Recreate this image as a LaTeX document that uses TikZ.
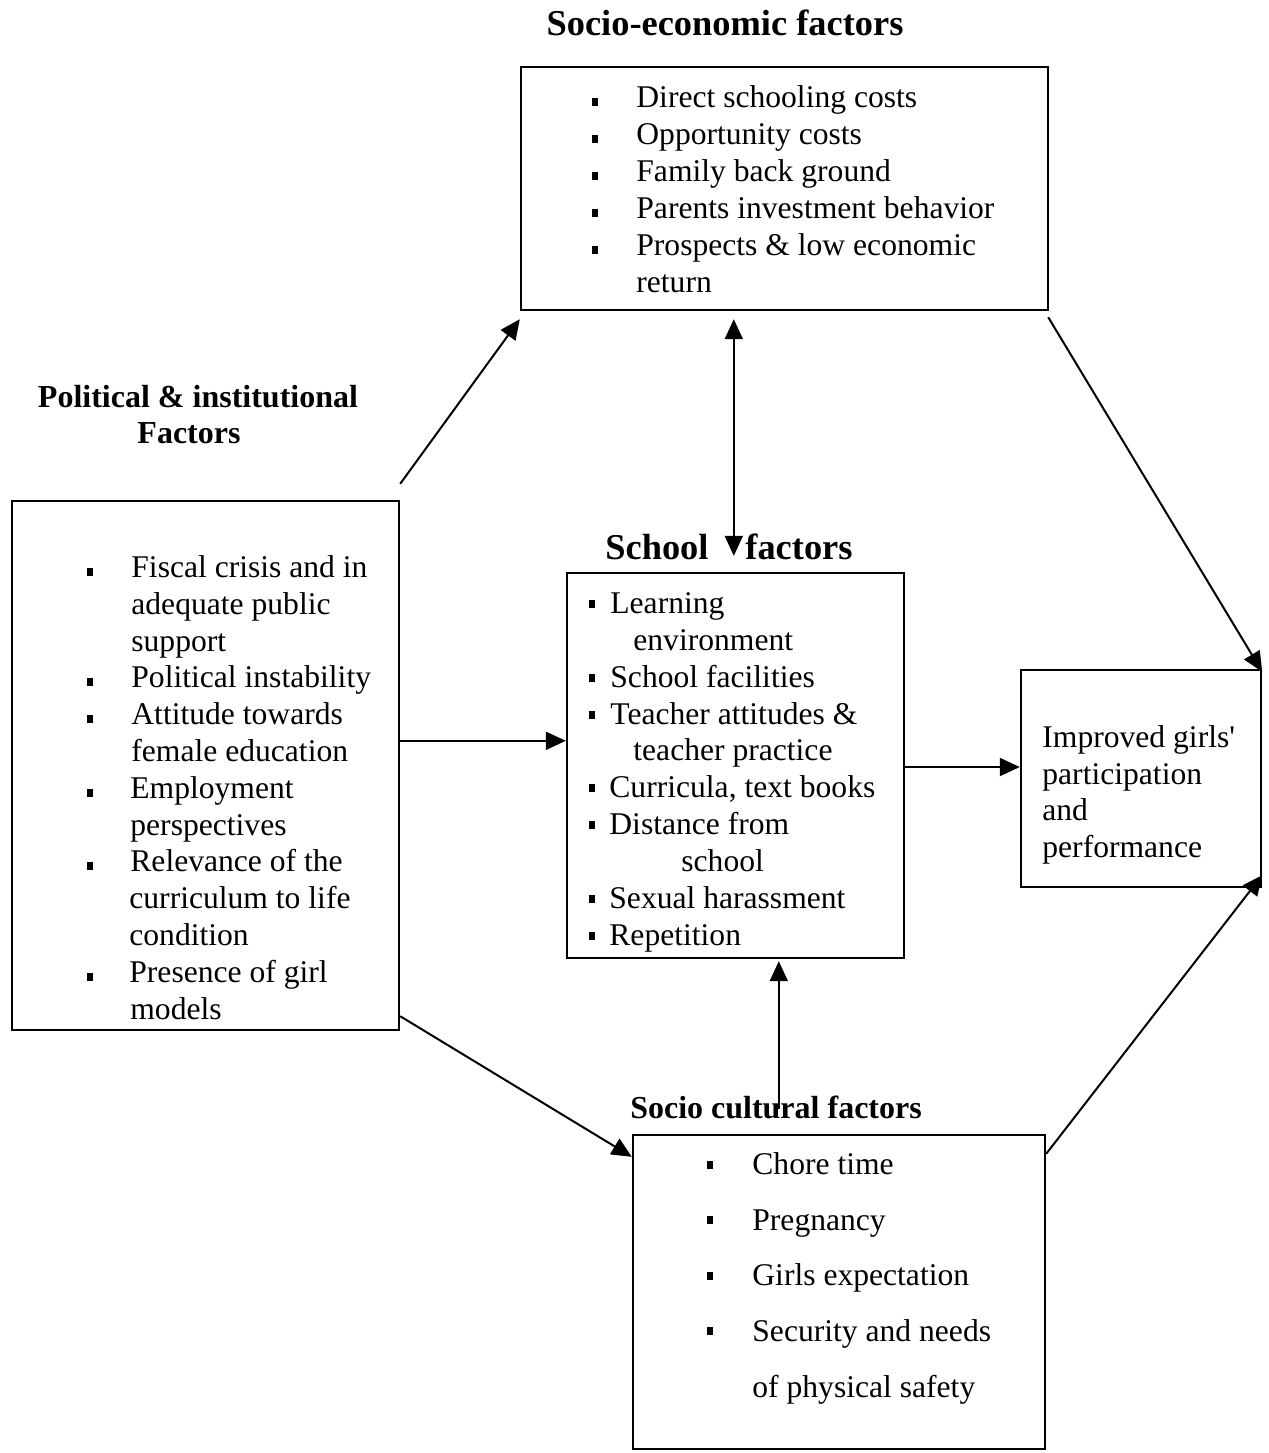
\documentclass[tikz,border=0pt]{standalone}
\usepackage{fontspec}
\setmainfont{Liberation Serif}[Ligatures=TeXOff]
\usetikzlibrary{arrows.meta,calc,fit}
\begin{document}
\begin{tikzpicture}[x=0.5pt,y=-0.5pt,
  box/.style={draw, line width=1.2pt, inner sep=0pt},
  arr/.style={line width=1pt, -{Triangle[length=10pt,width=9pt]}},
  dbl/.style={line width=1pt, {Triangle[length=10pt,width=9pt]}-{Triangle[length=10pt,width=9pt]}},
  txt/.style={anchor=base west, inner sep=0pt, font=\fontsize{15.8}{18}\selectfont},
  bul/.style={fill, inner sep=0pt, minimum width=3.3pt, minimum height=3.6pt},
  ttl/.style={anchor=base, inner sep=0pt, font=\bfseries\fontsize{16}{19}\selectfont},
  bigttl/.style={inner sep=0pt, font=\bfseries\fontsize{18.2}{22}\selectfont}]
\useasboundingbox (0,0) rectangle (1269,1453);

% ---------- boxes ----------
\node[box, fit={(521,67)(1048,310)}] (se) {};
\node[box, fit={(12,501)(399,1030)}] (pol) {};
\node[box, fit={(567,573)(904,958)}] (sch) {};
\node[box, fit={(1021,670)(1261,887)}] (imp) {};
\node[box, fit={(633,1135)(1045,1449)}] (sc) {};

% ---------- titles ----------
\node[bigttl, anchor=base] (set) at (725,35) {Socio-economic factors};
\node[ttl] (polt1) at (198,407) {Political \& institutional};
\node[ttl] (polt2) at (189,443) {Factors};
\node[bigttl, anchor=base west] (scht1) at (605,559) {School};
\node[bigttl, anchor=base west] (scht2) at (745,559) {factors};
\node[ttl] (sct) at (776,1118) {Socio cultural factors};

% ---------- socio-economic list ----------
\node[txt] (se1) at (636,107) {Direct schooling costs};
\node[txt] (se2) at (636,144) {Opportunity costs};
\node[txt] (se3) at (636,181) {Family back ground};
\node[txt] (se4) at (636,218) {Parents investment behavior};
\node[txt] (se5) at (636,255) {Prospects \& low economic};
\node[txt] (se6) at (636,292) {return};
\node[bul] (seb1) at (595,102) {};
\node[bul] (seb2) at (595,139) {};
\node[bul] (seb3) at (595,176) {};
\node[bul] (seb4) at (595,213) {};
\node[bul] (seb5) at (595,250) {};

% ---------- political list ----------
\node[txt] (p1) at (131,577) {Fiscal crisis and in};
\node[txt] (p2) at (131,614) {adequate public};
\node[txt] (p3) at (131,651) {support};
\node[txt] (p4) at (131,687) {Political instability};
\node[txt] (p5) at (131,724) {Attitude towards};
\node[txt] (p6) at (131,761) {female education};
\node[txt] (p7) at (130,798) {Employment};
\node[txt] (p8) at (130,835) {perspectives};
\node[txt] (p9) at (130,871) {Relevance of the};
\node[txt] (p10) at (129,908) {curriculum to life};
\node[txt] (p11) at (129,945) {condition};
\node[txt] (p12) at (129,982) {Presence of girl};
\node[txt] (p13) at (130,1019) {models};
\node[bul] (pb1) at (90,572) {};
\node[bul] (pb2) at (90,682) {};
\node[bul] (pb3) at (90,719) {};
\node[bul] (pb4) at (90,793) {};
\node[bul] (pb5) at (90,866) {};
\node[bul] (pb6) at (90,977) {};

% ---------- school list ----------
\node[txt] (s1) at (610,613) {Learning};
\node[txt] (s2) at (633,650) {environment};
\node[txt] (s3) at (610,687) {School facilities};
\node[txt] (s4) at (610,724) {Teacher attitudes \&};
\node[txt] (s5) at (633,760) {teacher practice};
\node[txt] (s6) at (609,797) {Curricula, text books};
\node[txt] (s7) at (609,834) {Distance from};
\node[txt] (s8) at (681,871) {school};
\node[txt] (s9) at (609,908) {Sexual harassment};
\node[txt] (s10) at (609,945) {Repetition};
\node[bul] (sb1) at (592,604) {};
\node[bul] (sb2) at (592,678) {};
\node[bul] (sb3) at (592,715) {};
\node[bul] (sb4) at (592,788) {};
\node[bul] (sb5) at (592,825) {};
\node[bul] (sb6) at (592,899) {};
\node[bul] (sb7) at (592,936) {};

% ---------- socio cultural list ----------
\node[txt] (c1) at (752,1174) {Chore time};
\node[txt] (c2) at (752,1230) {Pregnancy};
\node[txt] (c3) at (752,1285) {Girls expectation};
\node[txt] (c4) at (752,1341) {Security and needs};
\node[txt] (c5) at (752,1397) {of physical safety};
\node[bul] (cb1) at (710,1165) {};
\node[bul] (cb2) at (710,1220) {};
\node[bul] (cb3) at (710,1276) {};
\node[bul] (cb4) at (710,1331) {};

% ---------- outcome text ----------
\node[txt] (i1) at (1042,747) {Improved girls'};
\node[txt] (i2) at (1042,784) {participation};
\node[txt] (i3) at (1042,820) {and};
\node[txt] (i4) at (1042,857) {performance};

% ---------- connectors ----------
\draw[arr] ($(pol.north east)+(0,-16)$) -- ($(se.south west)+(0,8)$);
\draw[dbl] ($(se.south west)+(214,8)$) -- ($(sch.north west)+(168,-16)$);
\draw[arr] ($(se.south east)+(-1,6)$) -- ($(imp.north east)+(0,3)$);
\draw[arr] ($(pol.north east)+(0,241)$) -- ($(sch.north west)+(0,169)$);
\draw[arr] (sch.east |- 0,767) -- (imp.west |- 0,767);
\draw[arr] ($(pol.south east)+(0,-15)$) -- ($(sc.north west)+(0,23)$);
\draw[arr] ($(sc.north west)+(147,-25)$) -- ($(sch.south west)+(213,2)$);
\draw[arr] ($(sc.north east)+(0,20)$) -- ($(imp.south east)+(0,-13)$);
\end{tikzpicture}
\end{document}
